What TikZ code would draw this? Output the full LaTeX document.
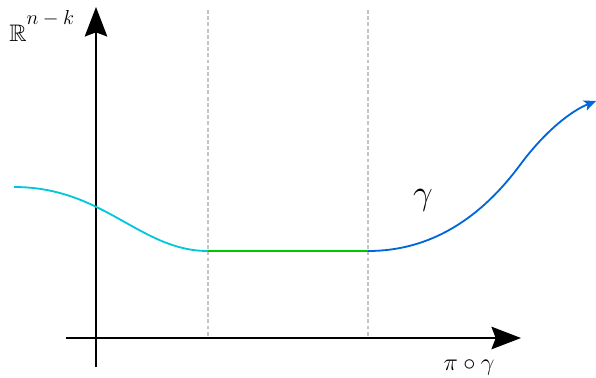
\documentclass[tikz,border=0pt]{standalone}
\usepackage{amssymb}
\usetikzlibrary{arrows.meta}
\definecolor{cyanc}{RGB}{0,200,218}
\definecolor{greenc}{RGB}{0,200,0}
\definecolor{bluec}{RGB}{0,102,220}
\definecolor{grayc}{RGB}{196,196,196}
\tikzset{
  axis/.style={line width=1.4pt, -{Stealth[length=21pt,width=16pt,inset=3pt]}},
  guide/.style={grayc, line width=1.3pt, dash pattern=on 2.8pt off 1.6pt},
  curve/.style={line width=1.3pt},
  lbl/.style={inner sep=0pt}
}
\begin{document}
\begin{tikzpicture}[x=0.025cm,y=-0.025cm]
\useasboundingbox (0,0) rectangle (596,377);
% guides
\coordinate (g1t) at (208,10);
\coordinate (g1b) at (208,338);
\coordinate (g2t) at (368,10);
\coordinate (g2b) at (368,338);
\draw[guide] (g1t) -- (g1b);
\draw[guide] (g2t) -- (g2b);
% axes
\coordinate (xs) at (66,338);
\coordinate (xe) at (521,338);
\coordinate (ys) at (96,367);
\coordinate (ye) at (96,7);
\draw[axis] (xs) -- (xe);
\draw[axis] (ys) -- (ye);
% curves
\coordinate (c0) at (14,187);
\coordinate (c1) at (208,251);
\coordinate (c2) at (368,251);
\coordinate (cm) at (520,165);
\coordinate (c3) at (596,101);
\draw[curve, cyanc] (c0) .. controls (104,187) and (140,251) .. (c1);
\draw[curve, greenc] (c1) -- (c2);
\draw[curve, bluec, -{Stealth[length=8.5pt,width=7.5pt,inset=2pt]}] (c2) .. controls (430,251) and (480,219) .. (cm) .. controls (545,131.25) and (571,111) .. (c3);
% labels
\node[lbl, anchor=base west] (rl) at (9,41) {\fontsize{17}{20}\selectfont$\mathbb{R}$\raisebox{11.5pt}{\fontsize{14}{16}\selectfont$n-k$}};
\node[lbl, anchor=base] (gl) at (423,204) {\fontsize{25}{28}\selectfont$\gamma$};
\node[lbl, anchor=base] (pl) at (469,370) {\fontsize{18}{20}\selectfont$\pi\circ\gamma$};
\end{tikzpicture}
\end{document}
